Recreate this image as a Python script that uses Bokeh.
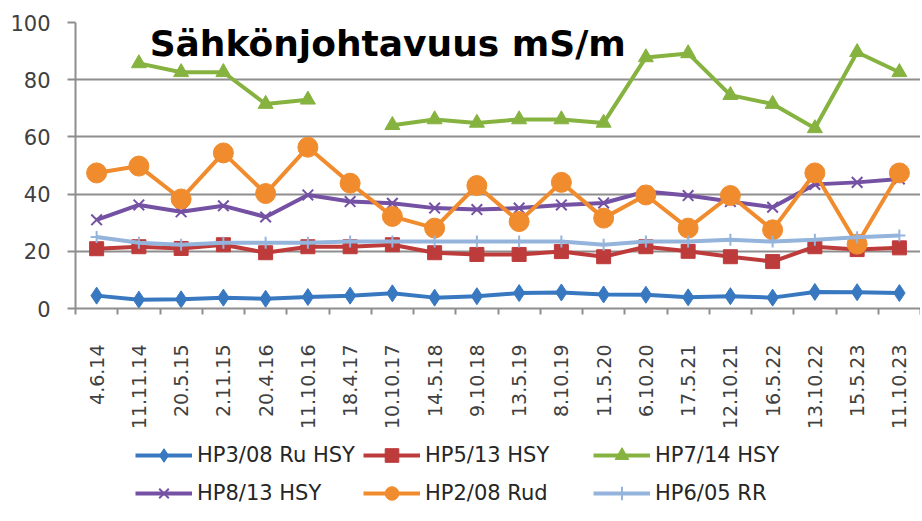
import math
from bokeh.plotting import figure
from bokeh.layouts import column
from bokeh.models import (Range1d, LinearAxis, FixedTicker,
                          Legend, LegendItem, Label, ColumnDataSource)
from bokeh.embed import file_html
from bokeh.resources import INLINE

nan = float("nan")

dates = ["4.6.14", "11.11.14", "20.5.15", "2.11.15", "20.4.16", "11.10.16", "18.4.17",
         "10.10.17", "14.5.18", "9.10.18", "13.5.19", "8.10.19", "11.5.20", "6.10.20",
         "17.5.21", "12.10.21", "16.5.22", "13.10.22", "15.5.23", "11.10.23"]

hp3_08 = [4.5, 3.1, 3.2, 3.8, 3.4, 4.0, 4.5, 5.3, 3.8, 4.3, 5.4, 5.6, 4.9, 4.8,
          3.9, 4.3, 3.8, 5.8, 5.7, 5.4]
hp5_13 = [20.9, 21.6, 21.0, 22.3, 19.5, 21.6, 21.6, 22.3, 19.5, 18.9, 18.9, 19.9,
          18.1, 21.6, 20.0, 18.1, 16.4, 21.6, 20.6, 21.2]
hp7_14 = [nan, 85.7, 82.6, 82.6, 71.5, 73.0, nan, 64.1, 66.1, 64.9, 66.1, 66.1,
          64.9, 87.8, 89.2, 74.6, 71.5, 63.0, 89.6, 82.6]
hp8_13 = [31.0, 36.2, 33.8, 35.9, 32.0, 39.7, 37.4, 36.8, 35.1, 34.6, 35.1, 36.2,
          36.9, 40.9, 39.5, 37.4, 35.4, 43.4, 44.1, 45.3]
hp2_08 = [47.4, 49.8, 38.3, 54.4, 40.2, 56.4, 43.8, 32.2, 28.1, 43.0, 30.4, 44.1,
          31.6, 39.7, 28.1, 39.5, 27.5, 47.4, 22.5, 47.4]
hp6_05 = [25.0, 23.0, 22.3, 23.0, 23.0, 23.0, 23.4, 23.4, 23.4, 23.4, 23.4, 23.4,
          22.3, 23.4, 23.4, 24.0, 23.4, 24.0, 24.9, 25.5]

y_ticks = [0, 20, 40, 60, 80, 100]
title_text = "Sähkönjohtavuus mS/m"

series = [
    ("HP3/08 Ru HSY", "a", "#3878c0", "diamond", 17),
    ("HP5/13 HSY", "b", "#be3b3b", "square", 14),
    ("HP7/14 HSY", "c", "#86b340", "triangle", 15),
    ("HP8/13 HSY", "d", "#7451a3", "x", 15),
    ("HP2/08 Rud", "e", "#f08c2e", "circle", 20),
    ("HP6/05 RR", "f", "#95b4dc", "cross", 12),
]

grid_col = "#8e8e8e"
lab_col = "#404040"
font = "DejaVu Sans"

n = len(dates)
xpos = [i + 0.5 for i in range(n)]   # category centres

W = 920
H_MAIN = 432
H_LEG = 89

p = figure(width=W, height=H_MAIN, x_range=Range1d(0, n), y_range=Range1d(0, 100),
           output_backend="svg", toolbar_location=None, x_axis_location=None,
           min_border_left=75, min_border_right=0, min_border_top=22, min_border_bottom=123)
p.outline_line_color = None
p.background_fill_color = "white"

# y axis
ya = p.yaxis[0]
ya.ticker = FixedTicker(ticks=y_ticks)
ya.axis_line_color = grid_col
ya.axis_line_width = 2
ya.major_tick_line_color = grid_col
ya.major_tick_line_width = 2
ya.major_tick_out = 8
ya.major_tick_in = 0
ya.minor_tick_line_color = None
ya.major_label_text_font = font
ya.major_label_text_font_size = "21px"
ya.major_label_text_color = lab_col
ya.major_label_standoff = 17

p.ygrid.grid_line_color = grid_col
p.ygrid.grid_line_width = 2
p.ygrid.ticker = FixedTicker(ticks=y_ticks)
p.xgrid.grid_line_color = None

# x axis: tick marks between categories (no labels)
ta = LinearAxis(ticker=FixedTicker(ticks=list(range(n + 1))))
ta.axis_line_color = grid_col
ta.axis_line_width = 2
ta.major_tick_line_color = grid_col
ta.major_tick_line_width = 2
ta.major_tick_out = 6
ta.major_tick_in = 0
ta.minor_tick_line_color = None
ta.major_label_text_font_size = "0px"
ta.major_label_text_color = None
ta.major_label_standoff = 0
p.add_layout(ta, "below")

# x axis: category labels at centres
xa = LinearAxis(ticker=FixedTicker(ticks=xpos))
xa.major_label_overrides = {x: d for x, d in zip(xpos, dates)}
xa.axis_line_color = None
xa.major_tick_line_color = None
xa.minor_tick_line_color = None
xa.major_label_orientation = math.pi / 2
xa.major_label_text_font = font
xa.major_label_text_font_size = "19px"
xa.major_label_text_color = lab_col
xa.major_label_standoff = 24
p.add_layout(xa, "below")

src = ColumnDataSource(dict(x=xpos, a=hp3_08, b=hp5_13, c=hp7_14, d=hp8_13, e=hp2_08, f=hp6_05))

for name, col, color, marker, size in series:
    p.line("x", col, source=src, line_color=color, line_width=4)
    if marker in ("x", "cross"):
        p.scatter("x", col, source=src, marker=marker, size=size, line_color=color,
                  line_width=2)
    else:
        p.scatter("x", col, source=src, marker=marker, size=size, fill_color=color,
                  line_color=color)

title = Label(x=1.755, y=92.5, text=title_text, text_font=font, text_font_style="bold",
              text_font_size="36px", text_color="#000000", text_baseline="alphabetic")
p.add_layout(title)

# legend strip below the chart (legend-only glyphs with no visible data)
q = figure(width=W, height=H_LEG, x_range=Range1d(0, W), y_range=Range1d(0, H_LEG),
           output_backend="svg", toolbar_location=None, x_axis_location=None,
           y_axis_location=None, min_border=0)
q.outline_line_color = None
q.xgrid.grid_line_color = None
q.ygrid.grid_line_color = None

items = []
for name, col, color, marker, size in series:
    l = q.line([nan], [nan], line_color=color, line_width=4)
    if marker in ("x", "cross"):
        s = q.scatter([nan], [nan], marker=marker, size=size, line_color=color, line_width=2)
    else:
        s = q.scatter([nan], [nan], marker=marker, size=size, fill_color=color,
                      line_color=color)
    items.append(LegendItem(label=name, renderers=[l, s]))

col_x = [60, 288, 518]   # relative to the aligned frame (which starts 75px in)
for ci in range(3):
    lg = Legend(items=[items[ci], items[ci + 3]], location=(col_x[ci], 11),
                orientation="vertical")
    lg.label_text_font = font
    lg.label_text_font_size = "21px"
    lg.label_text_color = "#262626"
    lg.glyph_width = 57
    lg.glyph_height = 34
    lg.label_height = 34
    lg.label_standoff = 5
    lg.spacing = 4
    lg.padding = 0
    lg.margin = 0
    lg.border_line_color = None
    lg.background_fill_alpha = 0
    q.add_layout(lg, "center")

open("out.html", "w").write(file_html(column(p, q, spacing=0), INLINE))
